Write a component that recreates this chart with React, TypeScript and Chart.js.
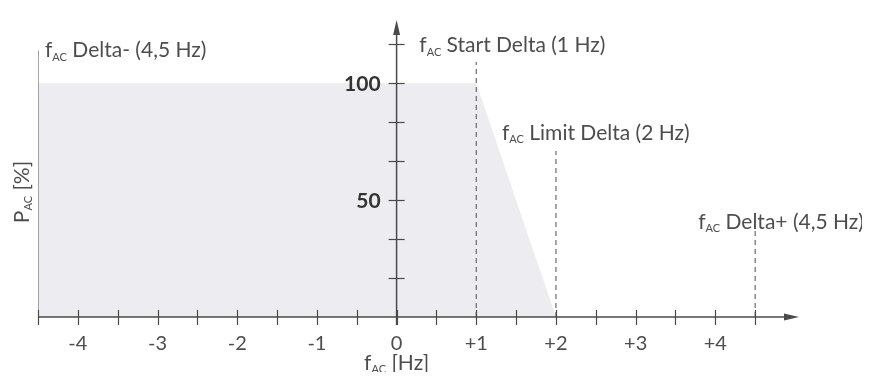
import React, { useEffect, useRef } from "react";
import { Chart, registerables } from "chart.js";

Chart.register(...registerables);

// ---- data ----
const fillX = [-4.5, 1, 2];
const fillY = [100, 100, 0];

const markerX = [-4.5, 1, 2, 4.5];
const markerTop = [114, 109, 71, 37];
const markerDashed = [false, true, true, true];

const xTickValues = [-4.5, -4, -3.5, -3, -2.5, -2, -1.5, -1, -0.5, 0, 0.5, 1, 1.5, 2, 2.5, 3, 3.5, 4, 4.5];
const xLabelValues = [-4, -3, -2, -1, 0, 1, 2, 3, 4];
const xLabelTexts = ["-4", "-3", "-2", "-1", "0", "+1", "+2", "+3", "+4"];
const yTickValues = [16.67, 33.33, 50, 66.67, 83.33, 100, 116.67];
const yLabelValues = [50, 100];
const yLabelTexts = ["50", "100"];

const annotationX = [-4.5, 1, 2, 4.5];
const annotationY = [114, 116, 78.6, 40.6];
const annotationRest = [" Delta- (4,5 Hz)", " Start Delta (1 Hz)", " Limit Delta (2 Hz)", " Delta+ (4,5 Hz)"];

const X_MIN = -4.5;
const X_MAX = 5.05;
const Y_MIN = 0;
const Y_MAX = 127;

const FONT = "Lato, 'Open Sans', sans-serif";
const TEXT = "#4d4d4d";
const AXIS = "#4a4a4a";
const LABEL_SIZE = 21;

function drawSub(ctx: CanvasRenderingContext2D, x: number, y: number, main: string, sub: string, rest: string, size: number) {
  ctx.save();
  ctx.textBaseline = "middle";
  ctx.textAlign = "left";
  ctx.fillStyle = TEXT;
  ctx.font = `${size}px ${FONT}`;
  ctx.fillText(main, x, y);
  let cx = x + ctx.measureText(main).width;
  ctx.font = `${Math.round(size * 0.5)}px ${FONT}`;
  ctx.fillText(sub, cx, y + size * 0.32);
  cx += ctx.measureText(sub).width;
  ctx.font = `${size}px ${FONT}`;
  ctx.fillText(rest, cx, y);
  ctx.restore();
}

function subWidth(ctx: CanvasRenderingContext2D, main: string, sub: string, rest: string, size: number) {
  ctx.save();
  ctx.font = `${size}px ${FONT}`;
  let w = ctx.measureText(main).width + ctx.measureText(rest).width;
  ctx.font = `${Math.round(size * 0.5)}px ${FONT}`;
  w += ctx.measureText(sub).width;
  ctx.restore();
  return w;
}

const axesPlugin = {
  id: "customAxes",
  afterDatasetsDraw(chart: any) {
    const ctx: CanvasRenderingContext2D = chart.ctx;
    const xs = chart.scales.x;
    const ys = chart.scales.y;
    const x0 = xs.getPixelForValue(0);
    const y0 = ys.getPixelForValue(0);
    const xl = xs.getPixelForValue(X_MIN);
    const xr = xs.getPixelForValue(X_MAX);
    const yt = ys.getPixelForValue(Y_MAX);

    ctx.save();
    ctx.strokeStyle = AXIS;
    ctx.fillStyle = AXIS;
    ctx.lineWidth = 1.5;
    // x axis
    ctx.beginPath();
    ctx.moveTo(xl, y0);
    ctx.lineTo(xr - 10, y0);
    ctx.stroke();
    ctx.beginPath();
    ctx.moveTo(xr, y0);
    ctx.lineTo(xr - 15, y0 - 3.5);
    ctx.lineTo(xr - 15, y0 + 3.5);
    ctx.closePath();
    ctx.fill();
    // y axis
    ctx.beginPath();
    ctx.moveTo(x0, y0 + 8);
    ctx.lineTo(x0, yt + 10);
    ctx.stroke();
    ctx.beginPath();
    ctx.moveTo(x0, yt);
    ctx.lineTo(x0 - 3.5, yt + 15);
    ctx.lineTo(x0 + 3.5, yt + 15);
    ctx.closePath();
    ctx.fill();

    // ticks
    ctx.lineWidth = 1.2;
    for (const v of xTickValues) {
      const px = Math.round(xs.getPixelForValue(v)) + 0.5;
      ctx.beginPath();
      ctx.moveTo(px, y0 - 7);
      ctx.lineTo(px, y0 + 8);
      ctx.stroke();
    }
    for (const v of yTickValues) {
      const py = Math.round(ys.getPixelForValue(v)) + 0.5;
      ctx.beginPath();
      ctx.moveTo(x0 - 8, py);
      ctx.lineTo(x0 + 8, py);
      ctx.stroke();
    }

    // tick labels
    ctx.fillStyle = TEXT;
    ctx.textBaseline = "middle";
    ctx.textAlign = "center";
    ctx.font = `20px ${FONT}`;
    xLabelValues.forEach((v, i) => {
      ctx.fillText(xLabelTexts[i], xs.getPixelForValue(v), y0 + 27);
    });
    ctx.textAlign = "right";
    ctx.fillStyle = "#333";
    ctx.font = `bold 21px ${FONT}`;
    yLabelValues.forEach((v, i) => {
      ctx.fillText(yLabelTexts[i], x0 - 16, ys.getPixelForValue(v) + 1);
    });
    ctx.restore();

    // annotations
    const offsets = [7, -57, -54, -57];
    annotationX.forEach((v, i) => {
      drawSub(ctx, xs.getPixelForValue(v) + offsets[i], ys.getPixelForValue(annotationY[i]), "f", "AC", annotationRest[i], LABEL_SIZE);
    });

    // x title
    const w = subWidth(ctx, "f", "AC", " [Hz]", LABEL_SIZE);
    drawSub(ctx, x0 - w / 2, y0 + 46, "f", "AC", " [Hz]", LABEL_SIZE);

    // y title (rotated)
    ctx.save();
    const wy = subWidth(ctx, "P", "AC", " [%]", LABEL_SIZE);
    ctx.translate(14, 184);
    ctx.rotate(-Math.PI / 2);
    drawSub(ctx, -wy / 2, 0, "P", "AC", " [%]", LABEL_SIZE);
    ctx.restore();
  },
};

export default function App() {
  const ref = useRef<HTMLCanvasElement | null>(null);
  useEffect(() => {
    if (!ref.current) return;
    const datasets: any[] = [
      {
        data: fillX.map((x, i) => ({ x, y: fillY[i] })),
        fill: "origin",
        backgroundColor: "#ececf1",
        borderWidth: 0,
        pointRadius: 0,
        tension: 0,
        order: 10,
      },
    ];
    markerX.forEach((x, i) => {
      datasets.push({
        data: [
          { x, y: 0 },
          { x, y: markerTop[i] },
        ],
        fill: false,
        borderColor: markerDashed[i] ? "#6a6a6a" : "#8a8a8a",
        borderWidth: markerDashed[i] ? 1.2 : 1.5,
        borderDash: markerDashed[i] ? [5, 4] : [],
        pointRadius: 0,
        order: 0,
      });
    });
    const chart = new Chart(ref.current, {
      type: "line",
      data: { datasets },
      options: {
        animation: false,
        responsive: true,
        maintainAspectRatio: false,
        layout: { padding: { left: 30, right: 63, top: 12, bottom: 63 } },
        plugins: { legend: { display: false }, tooltip: { enabled: false } },
        scales: {
          x: { type: "linear", min: X_MIN, max: X_MAX, display: false },
          y: { type: "linear", min: Y_MIN, max: Y_MAX, display: false },
        },
      },
      plugins: [axesPlugin],
    });
    return () => chart.destroy();
  }, []);
  return (
    <div style={{ width: 854, height: 372, marginBottom: -8, position: "relative", overflow: "hidden" }}>
      <canvas ref={ref} />
    </div>
  );
}
